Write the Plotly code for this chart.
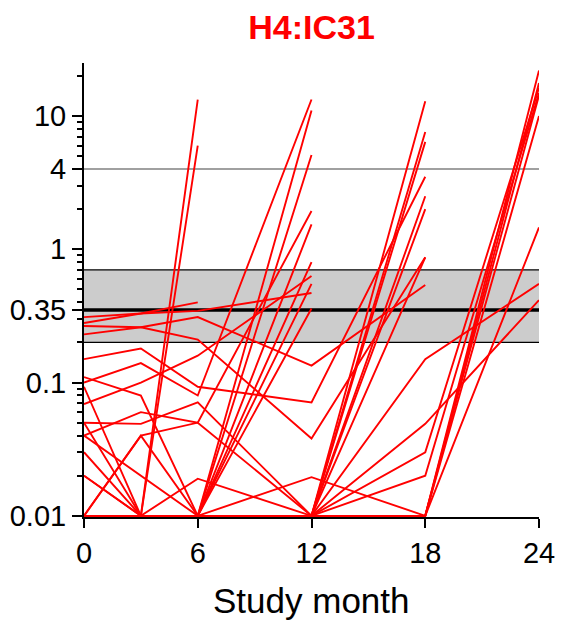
import math
import plotly.graph_objects as go

# Visit months
months = [0, 3, 6, 12, 18, 24]

# Subjects whose series stops at month 6 (converted)
conv_m6 = [
    [0.01, 0.01, 13.3],
    [0.05, 0.01, 6.0],
    [0.28, 0.33, 0.40],
]

# Subjects whose series stops at month 12
conv_m12 = [
    [0.10, 0.14, 0.08, 13.3],
    [0.01, 0.01, 0.01, 11.0],
    [0.02, 0.01, 0.01, 5.1],
    [0.04, 0.06, 0.05, 1.94],
    [0.01, 0.01, 0.01, 1.54],
    [0.01, 0.04, 0.01, 0.80],
    [0.069, 0.10, 0.159, 0.63],
    [0.01, 0.01, 0.01, 0.55],
    [0.31, 0.33, 0.345, 0.47],
    [0.093, 0.01, 0.01, 0.36],
]

# Subjects whose series stops at month 18
conv_m18 = [
    [0.01, 0.01, 0.01, 0.01, 12.9],
    [0.03, 0.01, 0.01, 0.01, 7.6],
    [0.01, 0.01, 0.01, 0.01, 6.4],
    [0.15, 0.18, 0.093, 0.071, 3.5],
    [0.01, 0.01, 0.01, 0.01, 2.5],
    [0.04, 0.02, 0.01, 0.01, 2.0],
    [0.266, 0.26, 0.21, 0.038, 0.87],
    [0.01, 0.01, 0.01, 0.01, 0.87],
    [0.23, 0.26, 0.31, 0.134, 0.54],
]

# Subjects followed to month 24
followed_m24 = [
    [0.01, 0.01, 0.019, 0.01, 0.01, 22.0],
    [0.01, 0.01, 0.01, 0.01, 0.01, 17.7],
    [0.02, 0.01, 0.01, 0.01, 0.03, 16.3],
    [0.01, 0.01, 0.01, 0.01, 0.02, 14.9],
    [0.01, 0.01, 0.01, 0.01, 0.01, 14.3],
    [0.01, 0.04, 0.05, 0.01, 0.01, 10.0],
    [0.01, 0.01, 0.01, 0.0195, 0.01, 1.46],
    [0.05, 0.049, 0.071, 0.01, 0.15, 0.55],
    [0.11, 0.08, 0.01, 0.01, 0.049, 0.415],
]

# Reference values
band_low = 0.2
band_high = 0.7
cutoff = 0.35
high_ref = 4

# Ticks
ytick_vals = [0.01, 0.1, 0.35, 1, 4, 10]
ytick_text = ["0.01", "0.1", "0.35", "1", "4", "10"]
ytick_minor = [0.02, 0.03, 0.04, 0.05, 0.06, 0.07, 0.08, 0.09,
               0.2, 0.3, 0.4, 0.5, 0.6, 0.7, 0.8, 0.9,
               2, 3, 5, 6, 7, 8, 9, 20]
xtick_vals = [0, 6, 12, 18, 24]
y_min, y_max = 0.0098, 25
x_min, x_max = 0, 24

RED = "#ff0000"
FONT = "Liberation Sans, Arial, sans-serif"

# page body has an 8px margin, so the figure is 8px smaller than the window
W, H = 560, 612
ML, MR, MT, MB = 76, 29, 55, 103
plot_h = H - MT - MB

fig = go.Figure()

for group in (conv_m6, conv_m12, conv_m18, followed_m24):
    for vals in group:
        fig.add_trace(go.Scatter(
            x=months[:len(vals)], y=vals, mode="lines",
            line=dict(color=RED, width=1.9),
            showlegend=False, hoverinfo="skip",
        ))

# grey band and reference lines
fig.add_shape(type="rect", xref="x", yref="y", x0=x_min, x1=x_max,
              y0=band_low, y1=band_high, fillcolor="#cccccc",
              line=dict(width=0), layer="below")
for yv, col, w in ((band_low, "black", 1.2), (band_high, "black", 1.2),
                   (high_ref, "#808080", 1.5), (cutoff, "black", 3.5)):
    fig.add_shape(type="line", xref="x", yref="y", x0=x_min, x1=x_max,
                  y0=yv, y1=yv, line=dict(color=col, width=w), layer="below")

# x-axis title as annotation (fixed position)
fig.add_annotation(text="Study month", xref="paper", yref="paper",
                   x=0.5, y=-(592 - (H - MB)) / plot_h, xanchor="center",
                   yanchor="middle", showarrow=False,
                   font=dict(size=35, color="black", family=FONT))

fig.update_layout(
    width=W, height=H,
    margin=dict(l=ML, r=MR, t=MT, b=MB, autoexpand=False),
    paper_bgcolor="white", plot_bgcolor="white",
    font=dict(family=FONT, color="black"),
    title=dict(text="<b>H4:IC31</b>", x=0.5, xref="paper", xanchor="center",
               y=1 - 19 / H, yanchor="middle",
               font=dict(size=34, color=RED, family=FONT)),
)
fig.update_xaxes(
    range=[x_min, x_max], tickmode="array", tickvals=xtick_vals,
    showgrid=False, zeroline=False, showline=True, linecolor="black",
    linewidth=2, ticks="outside", ticklen=9, tickwidth=2, tickcolor="black",
    tickfont=dict(size=29), layer="below traces", automargin=False,
)
fig.update_yaxes(
    type="log", range=[math.log10(y_min), math.log10(y_max)],
    tickmode="array", tickvals=ytick_vals, ticktext=ytick_text,
    showgrid=False, zeroline=False, showline=True, linecolor="black",
    linewidth=2, ticks="outside", ticklen=10, tickwidth=2, tickcolor="black",
    tickfont=dict(size=29), layer="below traces", ticklabelstandoff=0,
    automargin=False,
    minor=dict(tickmode="array", tickvals=ytick_minor, ticks="outside",
               ticklen=5, tickwidth=1.5, tickcolor="black", showgrid=False),
)

fig.write_html("out.html")
